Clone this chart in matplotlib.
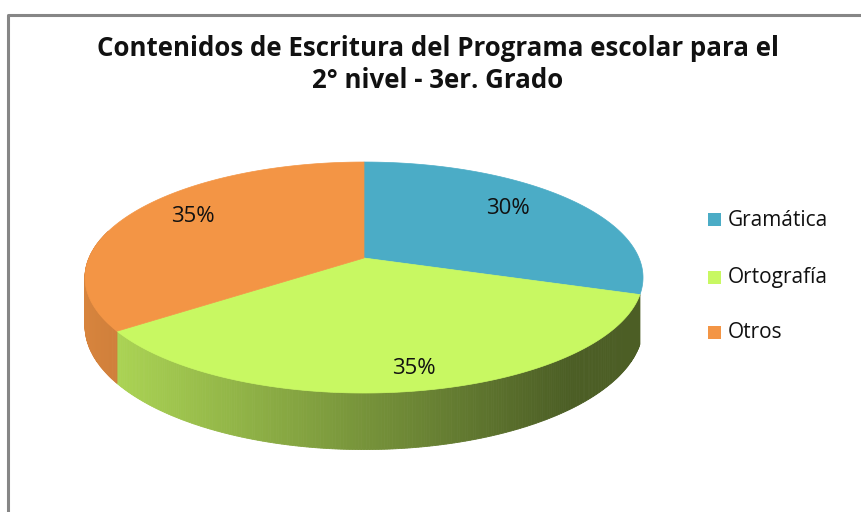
import numpy as np
import matplotlib
matplotlib.use("Agg")
import matplotlib.pyplot as plt
from matplotlib.patches import Polygon, Rectangle
from matplotlib.colors import to_rgb

# ---- data ----
categories = ["Gramática", "Ortografía", "Otros"]
values = [30, 35, 35]
labels = ["30%", "35%", "35%"]
colors = ["#4BACC6", "#C8F862", "#F39545"]
title_lines = ["Contenidos de Escritura del Programa escolar para el",
               "2° nivel - 3er. Grado"]

W, H = 861, 512
fig = plt.figure(figsize=(W / 100, H / 100), dpi=100)
ax = fig.add_axes([0, 0, 1, 1])
ax.set_xlim(0, W)
ax.set_ylim(H, 0)
ax.axis("off")

# chart frame
ax.plot([8, 8, W + 5], [H + 5, 15, 15], color="#868686", lw=2.2, solid_capstyle="butt")

# perspective pie geometry (pixel space)
cx, cy = 364, 258
A, B, k = 112.2, 275.0, 0.169
depth = 47.0

def proj(theta_deg):
    t = np.radians(theta_deg)
    u, v = np.sin(t), np.cos(t)
    d = 1 + k * v
    return cx + B * u / d, cy - A * v / d, depth / d

total = float(sum(values))
bounds = np.concatenate([[0], np.cumsum(values)]) / total * 360.0

def shade(x):
    f = 0.86 - (x - 110) * 0.00105
    return float(np.clip(f, 0.38, 0.9))

# side walls (drawn first, top face covers the back ones)
for i, col in enumerate(colors):
    if i == 0:
        continue  # first slice's wall sits behind the silhouette
    base = np.array(to_rgb(col))
    a0, a1 = bounds[i], bounds[i + 1]
    n = max(int((a1 - a0) * 2), 2)
    th = np.linspace(a0, a1, n + 1)
    for j in range(n):
        x0, y0, h0 = proj(th[j])
        x1, y1, h1 = proj(th[j + 1])
        if np.cos(np.radians((th[j] + th[j + 1]) / 2)) > 0.25:
            continue
        c = base * shade((x0 + x1) / 2)
        ax.add_patch(Polygon([(x0, y0), (x1, y1), (x1, y1 + h1), (x0, y0 + h0)],
                             closed=True, facecolor=c, edgecolor=c, lw=0.6))

# top faces
for i, col in enumerate(colors):
    th = np.linspace(bounds[i], bounds[i + 1], 200)
    xs, ys, _ = proj(th)
    pts = [(cx, cy)] + list(zip(xs, ys))
    ax.add_patch(Polygon(pts, closed=True, facecolor=col, edgecolor=col, lw=0.5))

# percentage labels
label_pos = [(508, 209), (414, 368), (193, 216)]
for (lx, ly), t in zip(label_pos, labels):
    ax.text(lx, ly, t, ha="center", va="center", fontsize=16,
            family="Open Sans", color="#111111")

# title
for y, line in zip([49, 81], title_lines):
    ax.text(438, y, line, ha="center", va="center", fontsize=18.6,
            family="Open Sans", fontweight="bold", color="#111111")

# legend
leg_y = [220, 278, 333]
for y, name, col in zip(leg_y, categories, colors):
    ax.add_patch(Rectangle((708, y - 7), 13, 13, facecolor=col, edgecolor="none"))
    ax.text(728, y, name, ha="left", va="center", fontsize=15,
            family="Open Sans", color="#111111")

fig.savefig("out.png", dpi=100)
